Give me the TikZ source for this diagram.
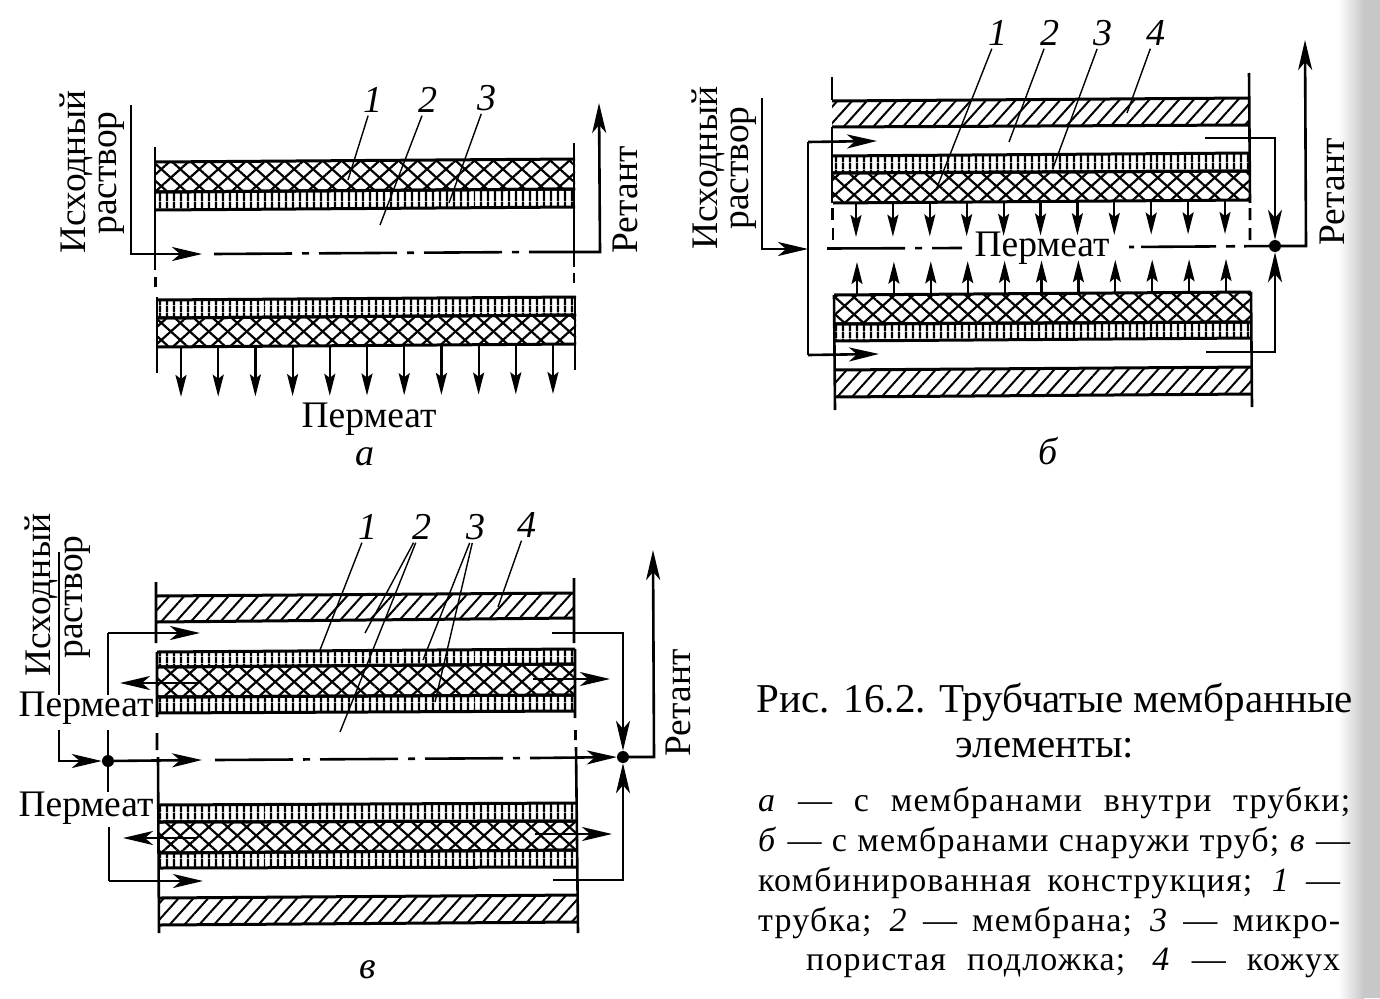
\documentclass[tikz,border=0pt]{standalone}
\usepackage{fontspec}
\setmainfont{Liberation Serif}
\usetikzlibrary{arrows.meta,patterns.meta}

\tikzset{
    wall/.style={line width=3pt},
    pipe/.style={line width=2.6pt},
    leader/.style={line width=1.4pt, shorten <=1pt},
    flow/.style={pipe, -{Stealth[length=30pt,width=14pt,inset=8pt]}},
    flux/.style={line width=2.2pt, -{Stealth[length=22pt,width=11pt,inset=4pt]}},
    axisline/.style={pipe, dash pattern=on 78pt off 10pt on 7pt off 10pt},
    shellfill/.style={pattern={Lines[angle=48,distance=11pt,line width=2pt]}},
    meshfill/.style={preaction={pattern={Lines[angle=42,distance=12.7pt,line width=2.2pt]}},
        pattern={Lines[angle=-42,distance=12.7pt,line width=2.2pt]}},
    porefill/.style={pattern={Lines[angle=90,distance=6.5pt,line width=2.4pt]}},
    word/.style={font=\fontsize{37.5}{42}\selectfont, inner sep=0pt},
    upword/.style={word, rotate=90},
    num/.style={font=\fontsize{38}{42}\selectfont\itshape, inner sep=2pt},
    head/.style={font=\fontsize{41}{46}\selectfont, inner sep=0pt},
    body/.style={font=\fontsize{34}{40}\selectfont\addfontfeature{LetterSpace=3.5}, inner sep=0pt, anchor=west},
    junction/.style={circle, fill=black, inner sep=0pt, minimum size=12pt}
}

% one layer of a tube: x1, top1, bottom1, x2, top2, bottom2, filling
\newcommand{\layer}[7]{
    \path[#7] (#1,#2) -- (#4,#5) -- (#4,#6) -- (#1,#3) -- cycle;
    \draw[wall] (#1,#2) -- (#4,#5) (#1,#3) -- (#4,#6);
}

\begin{document}
\begin{tikzpicture}[x=1pt, y=-1pt]
\useasboundingbox (0,0) rectangle (1380,998);

% Page edge
\shade[left color=white, right color=black!22] (1338,0) rectangle (1364,998);
\fill[black!22] (1364,0) rectangle (1380,998);

% Panel a: tube
\layer{156}{162}{192}{575}{159}{189}{meshfill}
\layer{156}{192}{210}{575}{189}{207}{porefill}
\layer{157}{300}{318}{576}{297}{315}{porefill}
\layer{157}{318}{347}{576}{315}{344}{meshfill}
\draw[pipe] (155,147) -- (155,270) (155.5,277) -- (155.5,287) (157,297) -- (157,373);
\draw[pipe] (574,143) -- (574,267) (574,273) -- (574,283) (575,297) -- (575,370);

% Panel a: flows
\coordinate (aIn) at (131,105);
\coordinate (aTip) at (202,254);
\coordinate (aOut) at (599,103);
\draw[flow] (aIn) |- (aTip);
\draw[axisline] (214,254) -- (530,252);
\draw[flow] (530,252) -- (600,252) -- (aOut);
\foreach \i in {0,...,10}{
    \draw[flux] ({181+37.2*\i},{346-0.3*\i}) -- ++(0,51);
}

% Panel a: labels
\foreach \n/\x/\y/\ex/\ey in {1/373/100/348/180, 2/428/100/380/225, 3/487/98/449/203}{
    \node[num] (a\n) at (\x,\y) {\n};
    \draw[leader] (a\n) -- (\ex,\ey);
}
\node[upword] (aFeedA) at (76,172) {Исходный};
\node[upword] (aFeedB) at (112,173) {раствор};
\node[upword] (aRet) at (625,200) {Ретант};
\node[word] (aPerm) at (369,419) {Пермеат};
\node[num] (aName) at (365,457) {а};

% Panel b: tubes and casing
\layer{832}{101}{127}{1249}{98}{125}{shellfill}
\layer{833}{156}{173}{1250}{153}{171}{porefill}
\layer{833}{173}{203}{1250}{171}{200}{meshfill}
\layer{834}{295}{324}{1251}{292}{322}{meshfill}
\layer{834}{324}{341}{1251}{322}{338}{porefill}
\layer{835}{370}{397}{1252}{367}{394}{shellfill}
\draw[pipe] (832,77) -- (832,100) (832,127) -- (832,203) (832.5,208) -- (832.5,220) (833,228) -- (833,240);
\draw[pipe] (834,295) -- (835,410);
\draw[pipe] (1249,73) -- (1250,203) (1250,208) -- (1250,220) (1250,228) -- (1250,240);
\draw[pipe] (1251,292) -- (1252,407);

% Panel b: flows
\node[junction] (bDot) at (1275,246) {};
\coordinate (bRise) at (808,249);
\coordinate (bOut) at (1305,40);
\draw[flow] (762,98) |- (bRise);
\draw[pipe] (808,142) -- (808,355);
\draw[flow] (808,142) -- (877,141);
\draw[flow] (808,355) -- (879,354);
\draw[axisline] (827,248.5) -- (962,248);
\draw[pipe, dash pattern=on 5pt off 7pt on 75pt off 10pt on 9pt off 9pt on 40pt off 100pt] (1129,247) -- (bDot);
\draw[flow] (1205,138) -| (bDot);
\draw[flow] (1206,352) -| (bDot);
\draw[flow] (bDot) -- (1306,246) -- (bOut);
\foreach \i in {0,...,10}{
    \draw[flux] ({856+36.9*\i},{203-0.3*\i}) -- ++(0,34);
    \draw[flux] ({857+36.9*\i},{295-0.3*\i}) -- ++(0,-33);
}

% Panel b: labels
\foreach \n/\x/\y/\ex/\ey in {1/998/33/936/190, 2/1050/33/1009/142, 3/1103/33/1053/168, 4/1156/33/1127/113}{
    \node[num] (b\n) at (\x,\y) {\n};
    \draw[leader] (b\n) -- (\ex,\ey);
}
\node[upword] (bFeedA) at (708,168) {Исходный};
\node[upword] (bFeedB) at (744,168) {раствор};
\node[upword] (bRet) at (1332,192) {Ретант};
\node[word] (bPerm) at (1042,248) {Пермеат};
\node[num] (bName) at (1048,451) {б};

% Panel c: tubes and casing
\layer{157}{596}{622}{574}{593}{618}{shellfill}
\layer{157}{652}{667}{575}{649}{664}{porefill}
\layer{157}{667}{697}{575}{664}{695}{meshfill}
\layer{157}{697}{713}{575}{695}{711}{porefill}
\layer{158}{805}{822}{577}{803}{821}{porefill}
\layer{158}{822}{853}{577}{821}{850}{meshfill}
\layer{158}{853}{868}{577}{850}{867}{porefill}
\layer{160}{898}{925}{578}{895}{922}{shellfill}
\draw[pipe] (156,582) -- (156,643) (157,652) -- (157,717) (157,733) -- (157,750) (158,757) -- (159,933);
\draw[pipe] (574,578) -- (574,643) (575,649) -- (575,718) (575.5,730) -- (575.5,740) (576,747) -- (578,933);

% Panel c: flows
\node[junction] (cIn) at (108,761) {};
\node[junction] (cDot) at (623,757) {};
\coordinate (cOut) at (653,550);
\draw[pipe] (59,552) -- (59,695);
\draw[flow] (59,730) |- (cIn);
\draw[pipe] (108,633) -- (108,695) (108,730) -- (108,792) (109,827) -- (109,881);
\draw[flow] (108,633) -- (200,633);
\draw[flow] (109,881) -- (203,881);
\draw[flow] (cIn) -- (202,760);
\draw[axisline] (215,760) -- (535,758);
\draw[flow] (535,758) -- (cDot);
\draw[flow] (552,633) -| (cDot);
\draw[flow] (553,880) -| (cDot);
\draw[flow] (cDot) -- (654,757) -- (cOut);
\foreach \ya/\yb/\xa/\xb/\xc/\xd in {683/679/197/120/533/610, 838/834/197/123/535/612}{
    \draw[flow] (\xa,\ya) -- (\xb,\ya);
    \draw[flow] (\xc,\yb) -- (\xd,\yb);
}

% Panel c: labels
\foreach \n/\x/\y in {1/368/527, 2/422/527, 3/476/527, 4/527/525}{
    \node[num] (c\n) at (\x,\y) {\n};
}
\draw[leader] (c1) -- (320,650);
\draw[leader] (c2) -- (365,633);
\draw[leader] (c2) -- (340,732);
\draw[leader] (c3) -- (423,660);
\draw[leader] (c3) -- (435,702);
\draw[leader] (c4) -- (498,607);
\node[upword] (cFeedA) at (41,595) {Исходный};
\node[upword] (cFeedB) at (78,597) {раствор};
\node[word] (cPermA) at (86,708) {Пермеат};
\node[word] (cPermB) at (86,808) {Пермеат};
\node[upword] (cRet) at (678,703) {Ретант};
\node[num] (cName) at (368,970) {в};

% Caption
\node[head] (capA) at (1055,702) {Рис. 16.2. Трубчатые мембранные};
\node[head] (capB) at (1045,748) {элементы:};
\node[body] (capC) at (758,803) {\makebox[592pt][s]{\textit{а} — с мембранами внутри трубки;}};
\node[body] (capD) at (758,843) {\makebox[592pt][s]{\textit{б} — с мембранами снаружи труб; \textit{в} —}};
\node[body] (capE) at (758,883) {\makebox[582pt][s]{комбинированная конструкция; \textit{1} —}};
\node[body] (capF) at (758,923) {\makebox[582pt][s]{трубка; \textit{2} — мембрана; \textit{3} — микро-}};
\node[body] (capG) at (806,963) {\makebox[534pt][s]{пористая подложка; \textit{4} — кожух}};
\end{tikzpicture}
\end{document}
